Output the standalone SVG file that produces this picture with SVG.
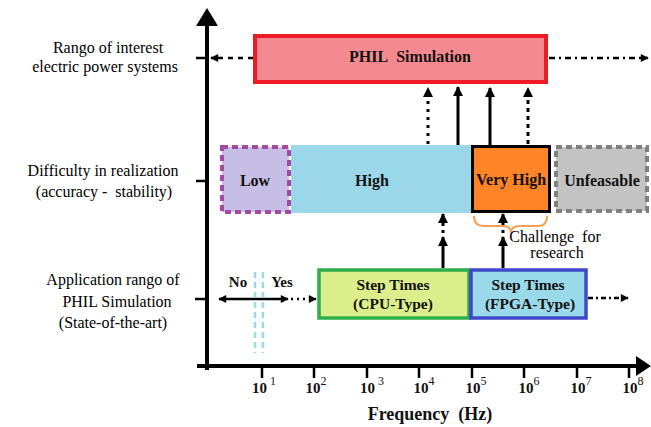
<svg xmlns="http://www.w3.org/2000/svg" width="651" height="427" viewBox="0 0 651 427" font-family="'Liberation Serif', 'Times New Roman', 'DejaVu Serif', serif">
<defs>
<marker id="ah" viewBox="0 0 10 10" refX="9" refY="5" markerWidth="10" markerHeight="10" markerUnits="userSpaceOnUse" orient="auto-start-reverse">
<path d="M0,0 L10,5 L0,10 Z" fill="#000"/>
</marker>
<marker id="ahs" viewBox="0 0 10 10" refX="9" refY="5" markerWidth="9" markerHeight="8" markerUnits="userSpaceOnUse" orient="auto-start-reverse">
<path d="M0,0 L10,5 L0,10 Z" fill="#000"/>
</marker>
</defs>
<style>
text{font-family:'Liberation Serif','Times New Roman','DejaVu Serif',serif}
.lbl{font-size:16px;fill:#000;text-anchor:middle}
.b{font-weight:bold;fill:#111;text-anchor:middle}
.axis{stroke:#000;stroke-width:4;fill:none}
.tick{stroke:#000;stroke-width:2.5}
.up{stroke:#000;stroke-width:3;fill:none}
</style>
<rect width="651" height="427" fill="#fff"/>

<!-- axes -->
<g id="axes">
<line class="axis" x1="207" y1="22" x2="207" y2="370"/>
<path d="M207,8 L218,26 L196,26 Z" fill="#000"/>
<line class="axis" x1="197" y1="366" x2="638" y2="366"/>
<path d="M651,366 L636,356 L636,376 Z" fill="#000"/>
<line class="tick" x1="196" y1="58" x2="207" y2="58"/>
<line class="tick" x1="196" y1="181" x2="207" y2="181"/>
<line class="tick" x1="195" y1="299" x2="207" y2="299"/>
<g class="tick">
<line x1="262" y1="366" x2="262" y2="378"/>
<line x1="314" y1="366" x2="314" y2="378"/>
<line x1="367" y1="366" x2="367" y2="378"/>
<line x1="419" y1="366" x2="419" y2="378"/>
<line x1="472" y1="366" x2="472" y2="378"/>
<line x1="524" y1="366" x2="524" y2="378"/>
<line x1="577" y1="366" x2="577" y2="378"/>
<line x1="629" y1="366" x2="629" y2="378"/>
</g>
<g class="b" font-size="15">
<text x="264" y="393">10<tspan dy="-8" font-size="12" font-weight="normal"> 1</tspan></text>
<text x="316" y="393">10<tspan dy="-8" font-size="12" font-weight="normal">2</tspan></text>
<text x="372" y="393">10<tspan dy="-8" font-size="12" font-weight="normal"> 3</tspan></text>
<text x="424" y="393">10<tspan dy="-8" font-size="12" font-weight="normal">4</tspan></text>
<text x="476" y="393">10<tspan dy="-8" font-size="12" font-weight="normal">5</tspan></text>
<text x="529" y="393">10<tspan dy="-8" font-size="12" font-weight="normal">6</tspan></text>
<text x="581" y="393">10<tspan dy="-8" font-size="12" font-weight="normal">7</tspan></text>
<text x="633" y="393">10<tspan dy="-8" font-size="12" font-weight="normal">8</tspan></text>
</g>
<text class="b" x="430" y="420" font-size="18">Frequency&#160; (Hz)</text>
</g>

<!-- left labels -->
<g id="labels">
<text class="lbl" x="108" y="53">Rango of interest</text>
<text class="lbl" x="105" y="72">electric power systems</text>
<text class="lbl" x="103" y="176">Difficulty in realization</text>
<text class="lbl" x="104" y="197">(accuracy -&#160; stability)</text>
<text class="lbl" x="113" y="285">Application rango of</text>
<text class="lbl" x="117" y="307">PHIL Simulation</text>
<text class="lbl" x="113" y="328">(State-of-the-art)</text>
</g>

<!-- connectors -->
<g id="connectors">
<line x1="253" y1="58" x2="211" y2="58" stroke="#000" stroke-width="2.5" stroke-dasharray="5,5" marker-end="url(#ahs)"/>
<line x1="549" y1="58" x2="648" y2="58" stroke="#000" stroke-width="2.5" stroke-dasharray="6,4,2,4" marker-end="url(#ahs)"/>
<line class="up" x1="428" y1="144" x2="428" y2="88" stroke-dasharray="3,5" marker-end="url(#ah)"/>
<line class="up" x1="458" y1="145" x2="458" y2="87" marker-end="url(#ah)"/>
<line class="up" x1="490" y1="145" x2="490" y2="88" marker-end="url(#ah)"/>
<line class="up" x1="528" y1="144" x2="528" y2="88" stroke-dasharray="4,4" marker-end="url(#ah)"/>
<line class="up" x1="443" y1="268" x2="443" y2="237" marker-end="url(#ah)"/>
<line class="up" x1="443" y1="233" x2="443" y2="230"/>
<line class="up" x1="443" y1="226" x2="443" y2="214" marker-end="url(#ah)"/>
<line class="up" x1="503" y1="268" x2="503" y2="237" marker-end="url(#ah)"/>
<line class="up" x1="503" y1="233" x2="503" y2="230"/>
<line class="up" x1="503" y1="226" x2="503" y2="214" marker-end="url(#ah)"/>
<line x1="288" y1="299" x2="219" y2="299" stroke="#000" stroke-width="2.5" marker-start="url(#ahs)" marker-end="url(#ahs)"/>
<line x1="291" y1="299" x2="316" y2="299" stroke="#000" stroke-width="2.5" stroke-dasharray="2,4" marker-end="url(#ahs)"/>
<line x1="588" y1="298" x2="628" y2="298" stroke="#000" stroke-width="2.5" stroke-dasharray="5,3,2,3" marker-end="url(#ahs)"/>
<line x1="255" y1="272" x2="255" y2="353" stroke="#99D9EA" stroke-width="2.5" stroke-dasharray="6,4"/>
<line x1="263" y1="272" x2="263" y2="353" stroke="#99D9EA" stroke-width="2.5" stroke-dasharray="6,4"/>
<path d="M474,216 Q474,226 484,226 L503,226 Q511,226 511,233 Q511,226 519,226 L538,226 Q547,226 547,216" fill="none" stroke="#F7A055" stroke-width="2"/>
</g>

<g id="phil">
<rect x="255" y="36" width="291" height="46" fill="#F48A8F" stroke="#ED1C24" stroke-width="4"/>
<text class="b" x="410" y="62" font-size="16">PHIL&#160; Simulation</text>
</g>

<g id="low">
<rect x="222" y="147" width="67" height="65" fill="#C6BEE4" stroke="#A349A4" stroke-width="4" stroke-dasharray="6,4"/>
<text class="b" x="255" y="186" font-size="16">Low</text>
</g>

<g id="high">
<rect x="291" y="145" width="180" height="68" fill="#9AD8E9"/>
<text class="b" x="372" y="186" font-size="16">High</text>
</g>

<g id="veryhigh">
<rect x="472.5" y="146.5" width="77" height="65" fill="#FF8427" stroke="#000" stroke-width="3"/>
<text class="b" x="511" y="185" font-size="16">Very High</text>
</g>

<g id="unfeasable">
<rect x="556" y="147" width="91" height="64" fill="#C3C3C3" stroke="#7F7F7F" stroke-width="4" stroke-dasharray="6,4"/>
<text class="b" x="602" y="186" font-size="16">Unfeasable</text>
</g>

<g id="challenge">
<text class="lbl" x="555" y="242" font-size="12">Challenge&#160; for</text>
<text class="lbl" x="557" y="258" font-size="12">research</text>
</g>

<g id="cpu">
<rect x="319" y="270" width="150" height="48" fill="#DCEE8C" stroke="#2DAF4B" stroke-width="3.5"/>
<text class="b" x="393" y="290" font-size="15.5">Step Times</text>
<text class="b" x="393" y="309" font-size="15.5">(CPU-Type)</text>
</g>

<g id="fpga">
<rect x="471" y="270" width="115" height="48" fill="#99D9EA" stroke="#3F48CC" stroke-width="3.5"/>
<text class="b" x="528" y="290" font-size="15.5">Step Times</text>
<text class="b" x="530" y="309" font-size="15.5">(FPGA-Type)</text>
</g>

<g id="noyes">
<text class="b" x="238" y="287" font-size="15">No</text>
<text class="b" x="282" y="287" font-size="15">Yes</text>
</g>
</svg>
